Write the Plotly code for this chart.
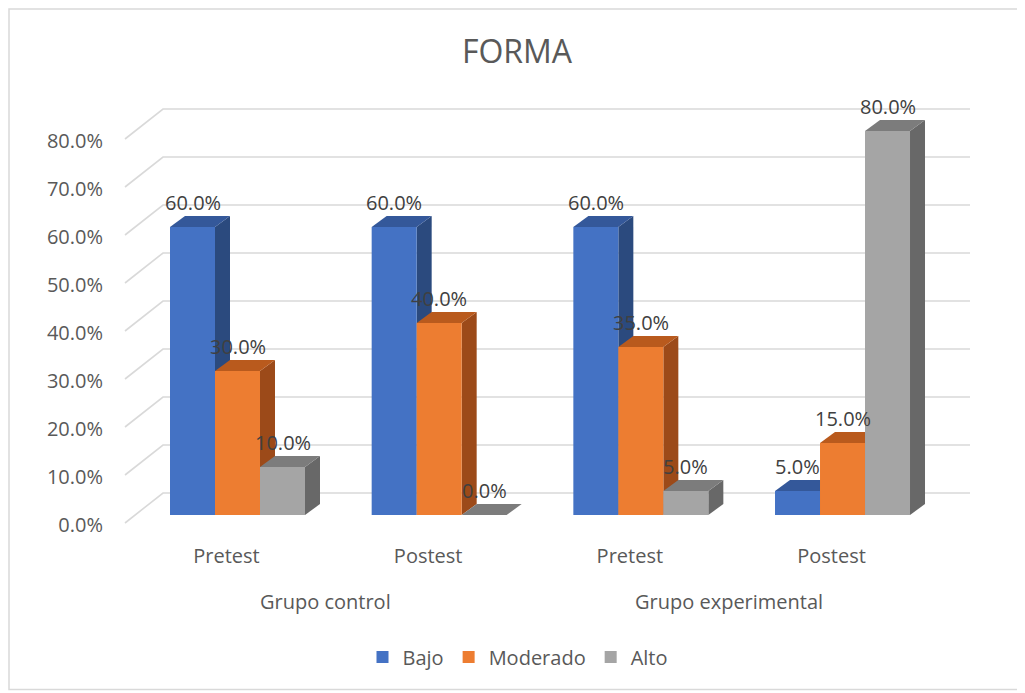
import plotly.graph_objects as go

# ---------------- data ----------------
group_labels = ["Grupo control", "Grupo experimental"]
test_labels = ["Pretest", "Postest", "Pretest", "Postest"]
series_names = ["Bajo", "Moderado", "Alto"]
bajo = [60.0, 60.0, 60.0, 5.0]
moderado = [30.0, 40.0, 35.0, 15.0]
alto = [10.0, 0.0, 5.0, 80.0]
y_ticks = [0, 10, 20, 30, 40, 50, 60, 70, 80]

series_values = [bajo, moderado, alto]
front_colors = ["#4472C4", "#ED7D31", "#A5A5A5"]
top_colors = ["#34589A", "#B95A1D", "#7C7C7C"]
side_colors = ["#2B4A7E", "#9C4A19", "#686868"]
text_color = "#595959"
label_color = "#404040"
grid_color = "#D9D9D9"
FONT = "Open Sans"

# ---------------- geometry (page pixels, minus 8px body margin) ----------------
OFF = 8
W, H = 1025 - OFF, 693 - OFF
PL, PR, PT, PB = 120 - OFF, 980 - OFF, 100 - OFF, 530 - OFF
CAT0_PX, CAT_PX = 237.5 - OFF, 201.67
BASE_PX, PX_PER_PCT = 515 - OFF, 4.8
BAR_PX = 45
DEPTH_DX, DEPTH_DY = 15, 11
WALL_FRONT_X, WALL_BACK_X, WALL_RIGHT_X = 125 - OFF, 163 - OFF, 970 - OFF
WALL_FRONT_DY, WALL_BACK_DY = -8, 22


def px2x(px):
    return (px - CAT0_PX) / CAT_PX


def dxu(px):
    return px / CAT_PX


def dyu(px):
    return px / PX_PER_PCT


def py2paper(py):
    return (PB - (py - OFF)) / (PB - PT)


def px2paper(px):
    return ((px - OFF) - PL) / (PR - PL)


x_range = [px2x(PL), px2x(PR)]
y_range = [(BASE_PX - PB) / PX_PER_PCT, (BASE_PX - PT) / PX_PER_PCT]
bw = dxu(BAR_PX)
ddx, ddy = dxu(DEPTH_DX), dyu(DEPTH_DY)
cats = list(range(len(test_labels)))

fig = go.Figure()
shapes = []

# back-wall gridlines with perspective side-wall segment
for v in y_ticks:
    yf = v + dyu(WALL_FRONT_DY)
    yb = v + dyu(WALL_BACK_DY)
    shapes.append(dict(
        type="path", xref="x", yref="y", layer="below",
        path=f"M {px2x(WALL_FRONT_X)},{yf} L {px2x(WALL_BACK_X)},{yb} L {px2x(WALL_RIGHT_X)},{yb}",
        line=dict(color=grid_color, width=1.6)))

# front faces as bars
for i, (name, vals) in enumerate(zip(series_names, series_values)):
    fig.add_trace(go.Bar(
        name=name, x=cats, y=vals, width=bw, offset=-1.5 * bw + i * bw,
        marker=dict(color=front_colors[i], line=dict(width=0)),
        hoverinfo="skip"))

# side and top faces (drawn under the bars, left to right)
annotations = []
for j in cats:
    for i, vals in enumerate(series_values):
        v = vals[j]
        xl = j - 1.5 * bw + i * bw
        xr = xl + bw
        if v > 0:
            shapes.append(dict(
                type="path", xref="x", yref="y", layer="between",
                path=f"M {xr},0 L {xr+ddx},{ddy} L {xr+ddx},{v+ddy} L {xr},{v} Z",
                fillcolor=side_colors[i], line=dict(width=0)))
        shapes.append(dict(
            type="path", xref="x", yref="y", layer="between",
            path=f"M {xl},{v} L {xl+ddx},{v+ddy} L {xr+ddx},{v+ddy} L {xr},{v} Z",
            fillcolor=top_colors[i], line=dict(width=0)))
        annotations.append(dict(
            x=(xl + xr) / 2, y=v, xref="x", yref="y", yshift=25,
            text=f"{v:.1f}%", showarrow=False, yanchor="middle",
            font=dict(family=FONT, size=20, color=label_color)))

# group labels
for g, name in enumerate(group_labels):
    annotations.append(dict(
        x=2 * g + 0.5, xref="x", xshift=-13,
        y=py2paper(601), yref="paper", yanchor="middle",
        text=name, showarrow=False,
        font=dict(family=FONT, size=20, color=text_color)))

# chart-area border
shapes.append(dict(
    type="rect", xref="paper", yref="paper", layer="below",
    x0=px2paper(OFF + 1), x1=px2paper(1021),
    y0=py2paper(689.5), y1=py2paper(OFF + 1),
    line=dict(color="#D9D9D9", width=1.5), fillcolor="rgba(0,0,0,0)"))

fig.update_layout(
    width=W, height=H,
    margin=dict(l=PL, r=W - PR, t=PT, b=H - PB, autoexpand=False),
    paper_bgcolor="white", plot_bgcolor="white",
    barmode="overlay",
    font=dict(family=FONT, color=text_color),
    title=dict(text="FORMA", x=(517 - OFF) / W, xref="container", xanchor="center",
               y=1 - (52 - OFF) / H, yref="container", yanchor="middle",
               font=dict(family=FONT, size=32, color=text_color)),
    xaxis=dict(range=x_range, tickvals=cats, ticktext=test_labels,
               showgrid=False, zeroline=False, showline=False, ticks="",
               ticklabelshift=-11, ticklabelstandoff=12,
               tickfont=dict(family=FONT, size=20, color=text_color)),
    yaxis=dict(range=y_range, tickvals=y_ticks,
               ticktext=[f"{t:.1f}%" for t in y_ticks],
               showgrid=False, zeroline=False, showline=False, ticks="",
               ticklabelshift=10, ticklabelstandoff=16,
               tickfont=dict(family=FONT, size=20, color=text_color)),
    legend=dict(orientation="h", xref="container", x=(518 - OFF) / W, xanchor="center",
                yref="paper", y=py2paper(657), yanchor="middle",
                itemwidth=30,
                font=dict(family=FONT, size=20, color=text_color),
                itemclick=False),
    shapes=shapes,
    annotations=annotations,
)

fig.write_html("out.html")
